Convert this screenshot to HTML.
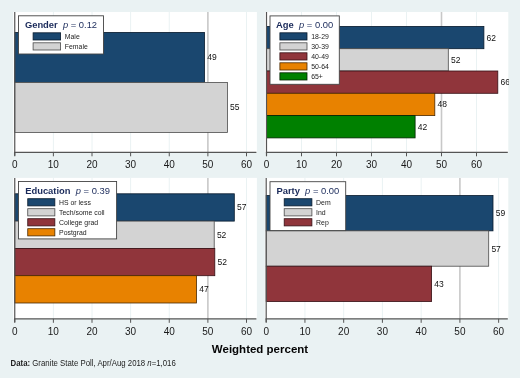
<!DOCTYPE html>
<html><head><meta charset="utf-8"><style>
html,body{margin:0;padding:0;background:#eaf2f3;}
svg{display:block;will-change:transform;}
text{font-family:"Liberation Sans",sans-serif;}
.vl{font-size:8.5px;fill:#111;}
.tl{font-size:10px;fill:#1a1a1a;}
.lt{font-size:9.4px;fill:#1a2a5a;white-space:pre;}
.ll{font-size:6.9px;fill:#222;}
.xt{font-size:11.5px;font-weight:bold;fill:#050505;}
.nt{font-size:8.6px;fill:#222;}
</style></head><body>
<svg width="520" height="378" viewBox="0 0 520 378">
<rect x="0" y="0" width="520" height="378" fill="#eaf2f3"/>
<clipPath id="c0"><rect x="13.2" y="12" width="244.30" height="140.30"/></clipPath>
<rect x="13.2" y="12" width="243.7" height="140.3" fill="#fff"/>
<line x1="53.38" y1="12" x2="53.38" y2="152.3" stroke="#eaf2f3" stroke-width="1"/>
<line x1="92.00" y1="12" x2="92.00" y2="152.3" stroke="#eaf2f3" stroke-width="1"/>
<line x1="130.62" y1="12" x2="130.62" y2="152.3" stroke="#eaf2f3" stroke-width="1"/>
<line x1="169.25" y1="12" x2="169.25" y2="152.3" stroke="#eaf2f3" stroke-width="1"/>
<line x1="246.50" y1="12" x2="246.50" y2="152.3" stroke="#eaf2f3" stroke-width="1"/>
<line x1="207.88" y1="12" x2="207.88" y2="152.3" stroke="#c8c8c8" stroke-width="1.6"/>
<rect x="14.75" y="32.40" width="189.75" height="50.00" fill="#1a476f" stroke="#081a2c" stroke-width="0.8"/>
<text x="207.20" y="60.40" class="vl" clip-path="url(#c0)">49</text>
<rect x="14.75" y="82.40" width="212.65" height="50.00" fill="#d3d3d3" stroke="#4a4a4a" stroke-width="0.8"/>
<text x="230.10" y="110.40" class="vl" clip-path="url(#c0)">55</text>
<line x1="14.75" y1="12" x2="14.75" y2="155.8" stroke="#555" stroke-width="1.2"/>
<line x1="14.15" y1="152.3" x2="256.4" y2="152.3" stroke="#555" stroke-width="1.2"/>
<line x1="14.75" y1="152.3" x2="14.75" y2="156.3" stroke="#555" stroke-width="1"/>
<text x="14.75" y="168.40" class="tl" text-anchor="middle">0</text>
<line x1="53.38" y1="152.3" x2="53.38" y2="156.3" stroke="#555" stroke-width="1"/>
<text x="53.38" y="168.40" class="tl" text-anchor="middle">10</text>
<line x1="92.00" y1="152.3" x2="92.00" y2="156.3" stroke="#555" stroke-width="1"/>
<text x="92.00" y="168.40" class="tl" text-anchor="middle">20</text>
<line x1="130.62" y1="152.3" x2="130.62" y2="156.3" stroke="#555" stroke-width="1"/>
<text x="130.62" y="168.40" class="tl" text-anchor="middle">30</text>
<line x1="169.25" y1="152.3" x2="169.25" y2="156.3" stroke="#555" stroke-width="1"/>
<text x="169.25" y="168.40" class="tl" text-anchor="middle">40</text>
<line x1="207.88" y1="152.3" x2="207.88" y2="156.3" stroke="#555" stroke-width="1"/>
<text x="207.88" y="168.40" class="tl" text-anchor="middle">50</text>
<line x1="246.50" y1="152.3" x2="246.50" y2="156.3" stroke="#555" stroke-width="1"/>
<text x="246.50" y="168.40" class="tl" text-anchor="middle">60</text>
<rect x="18.5" y="15.8" width="85.00" height="38.20" fill="#fff" stroke="#444" stroke-width="0.9"/>
<text x="61.00" y="27.90" class="lt" text-anchor="middle"><tspan font-weight="bold">Gender</tspan>  <tspan font-style="italic">p</tspan> = 0.12</text>
<rect x="33.1" y="32.80" width="27.5" height="7.2" fill="#1a476f" stroke="#081a2c" stroke-width="0.8"/>
<text x="64.80" y="38.90" class="ll">Male</text>
<rect x="33.1" y="42.80" width="27.5" height="7.2" fill="#d3d3d3" stroke="#4a4a4a" stroke-width="0.8"/>
<text x="64.80" y="48.90" class="ll">Female</text>
<clipPath id="c1"><rect x="264.8" y="12" width="244.10" height="140.30"/></clipPath>
<rect x="264.8" y="12" width="243.5" height="140.3" fill="#fff"/>
<line x1="301.50" y1="12" x2="301.50" y2="152.3" stroke="#eaf2f3" stroke-width="1"/>
<line x1="336.50" y1="12" x2="336.50" y2="152.3" stroke="#eaf2f3" stroke-width="1"/>
<line x1="371.50" y1="12" x2="371.50" y2="152.3" stroke="#eaf2f3" stroke-width="1"/>
<line x1="406.50" y1="12" x2="406.50" y2="152.3" stroke="#eaf2f3" stroke-width="1"/>
<line x1="476.50" y1="12" x2="476.50" y2="152.3" stroke="#eaf2f3" stroke-width="1"/>
<line x1="441.50" y1="12" x2="441.50" y2="152.3" stroke="#c8c8c8" stroke-width="1.6"/>
<rect x="266.50" y="26.40" width="217.40" height="22.30" fill="#1a476f" stroke="#081a2c" stroke-width="0.8"/>
<text x="486.60" y="40.55" class="vl" clip-path="url(#c1)">62</text>
<rect x="266.50" y="48.70" width="181.80" height="22.30" fill="#d3d3d3" stroke="#4a4a4a" stroke-width="0.8"/>
<text x="451.00" y="62.85" class="vl" clip-path="url(#c1)">52</text>
<rect x="266.50" y="71.00" width="231.30" height="22.30" fill="#90353b" stroke="#351014" stroke-width="0.8"/>
<text x="500.50" y="85.15" class="vl" clip-path="url(#c1)">66</text>
<rect x="266.50" y="93.30" width="168.30" height="22.30" fill="#e88200" stroke="#4a2800" stroke-width="0.8"/>
<text x="437.50" y="107.45" class="vl" clip-path="url(#c1)">48</text>
<rect x="266.50" y="115.60" width="148.60" height="22.30" fill="#008000" stroke="#002200" stroke-width="0.8"/>
<text x="417.80" y="129.75" class="vl" clip-path="url(#c1)">42</text>
<line x1="266.50" y1="12" x2="266.50" y2="155.8" stroke="#555" stroke-width="1.2"/>
<line x1="265.90" y1="152.3" x2="507.8" y2="152.3" stroke="#555" stroke-width="1.2"/>
<line x1="266.50" y1="152.3" x2="266.50" y2="156.3" stroke="#555" stroke-width="1"/>
<text x="266.50" y="168.40" class="tl" text-anchor="middle">0</text>
<line x1="301.50" y1="152.3" x2="301.50" y2="156.3" stroke="#555" stroke-width="1"/>
<text x="301.50" y="168.40" class="tl" text-anchor="middle">10</text>
<line x1="336.50" y1="152.3" x2="336.50" y2="156.3" stroke="#555" stroke-width="1"/>
<text x="336.50" y="168.40" class="tl" text-anchor="middle">20</text>
<line x1="371.50" y1="152.3" x2="371.50" y2="156.3" stroke="#555" stroke-width="1"/>
<text x="371.50" y="168.40" class="tl" text-anchor="middle">30</text>
<line x1="406.50" y1="152.3" x2="406.50" y2="156.3" stroke="#555" stroke-width="1"/>
<text x="406.50" y="168.40" class="tl" text-anchor="middle">40</text>
<line x1="441.50" y1="152.3" x2="441.50" y2="156.3" stroke="#555" stroke-width="1"/>
<text x="441.50" y="168.40" class="tl" text-anchor="middle">50</text>
<line x1="476.50" y1="152.3" x2="476.50" y2="156.3" stroke="#555" stroke-width="1"/>
<text x="476.50" y="168.40" class="tl" text-anchor="middle">60</text>
<rect x="270" y="15.9" width="69.30" height="68.40" fill="#fff" stroke="#444" stroke-width="0.9"/>
<text x="304.65" y="27.90" class="lt" text-anchor="middle"><tspan font-weight="bold">Age</tspan>  <tspan font-style="italic">p</tspan> = 0.00</text>
<rect x="279.9" y="32.80" width="27.1" height="7.2" fill="#1a476f" stroke="#081a2c" stroke-width="0.8"/>
<text x="311.20" y="38.90" class="ll">18-29</text>
<rect x="279.9" y="42.80" width="27.1" height="7.2" fill="#d3d3d3" stroke="#4a4a4a" stroke-width="0.8"/>
<text x="311.20" y="48.90" class="ll">30-39</text>
<rect x="279.9" y="52.80" width="27.1" height="7.2" fill="#90353b" stroke="#351014" stroke-width="0.8"/>
<text x="311.20" y="58.90" class="ll">40-49</text>
<rect x="279.9" y="62.80" width="27.1" height="7.2" fill="#e88200" stroke="#4a2800" stroke-width="0.8"/>
<text x="311.20" y="68.90" class="ll">50-64</text>
<rect x="279.9" y="72.80" width="27.1" height="7.2" fill="#008000" stroke="#002200" stroke-width="0.8"/>
<text x="311.20" y="78.90" class="ll">65+</text>
<clipPath id="c2"><rect x="13.2" y="177.9" width="244.30" height="140.90"/></clipPath>
<rect x="13.2" y="177.9" width="243.7" height="140.9" fill="#fff"/>
<line x1="53.38" y1="177.9" x2="53.38" y2="318.8" stroke="#eaf2f3" stroke-width="1"/>
<line x1="92.00" y1="177.9" x2="92.00" y2="318.8" stroke="#eaf2f3" stroke-width="1"/>
<line x1="130.62" y1="177.9" x2="130.62" y2="318.8" stroke="#eaf2f3" stroke-width="1"/>
<line x1="169.25" y1="177.9" x2="169.25" y2="318.8" stroke="#eaf2f3" stroke-width="1"/>
<line x1="246.50" y1="177.9" x2="246.50" y2="318.8" stroke="#eaf2f3" stroke-width="1"/>
<line x1="207.88" y1="177.9" x2="207.88" y2="318.8" stroke="#c8c8c8" stroke-width="1.6"/>
<rect x="14.75" y="193.80" width="219.55" height="27.30" fill="#1a476f" stroke="#081a2c" stroke-width="0.8"/>
<text x="237.00" y="210.45" class="vl" clip-path="url(#c2)">57</text>
<rect x="14.75" y="221.10" width="199.45" height="27.30" fill="#d3d3d3" stroke="#4a4a4a" stroke-width="0.8"/>
<text x="216.90" y="237.75" class="vl" clip-path="url(#c2)">52</text>
<rect x="14.75" y="248.40" width="200.05" height="27.30" fill="#90353b" stroke="#351014" stroke-width="0.8"/>
<text x="217.50" y="265.05" class="vl" clip-path="url(#c2)">52</text>
<rect x="14.75" y="275.70" width="181.75" height="27.30" fill="#e88200" stroke="#4a2800" stroke-width="0.8"/>
<text x="199.20" y="292.35" class="vl" clip-path="url(#c2)">47</text>
<line x1="14.75" y1="177.9" x2="14.75" y2="322.3" stroke="#555" stroke-width="1.2"/>
<line x1="14.15" y1="318.8" x2="256.4" y2="318.8" stroke="#555" stroke-width="1.2"/>
<line x1="14.75" y1="318.8" x2="14.75" y2="322.8" stroke="#555" stroke-width="1"/>
<text x="14.75" y="334.90" class="tl" text-anchor="middle">0</text>
<line x1="53.38" y1="318.8" x2="53.38" y2="322.8" stroke="#555" stroke-width="1"/>
<text x="53.38" y="334.90" class="tl" text-anchor="middle">10</text>
<line x1="92.00" y1="318.8" x2="92.00" y2="322.8" stroke="#555" stroke-width="1"/>
<text x="92.00" y="334.90" class="tl" text-anchor="middle">20</text>
<line x1="130.62" y1="318.8" x2="130.62" y2="322.8" stroke="#555" stroke-width="1"/>
<text x="130.62" y="334.90" class="tl" text-anchor="middle">30</text>
<line x1="169.25" y1="318.8" x2="169.25" y2="322.8" stroke="#555" stroke-width="1"/>
<text x="169.25" y="334.90" class="tl" text-anchor="middle">40</text>
<line x1="207.88" y1="318.8" x2="207.88" y2="322.8" stroke="#555" stroke-width="1"/>
<text x="207.88" y="334.90" class="tl" text-anchor="middle">50</text>
<line x1="246.50" y1="318.8" x2="246.50" y2="322.8" stroke="#555" stroke-width="1"/>
<text x="246.50" y="334.90" class="tl" text-anchor="middle">60</text>
<rect x="18.5" y="181.5" width="98.10" height="57.40" fill="#fff" stroke="#444" stroke-width="0.9"/>
<text x="67.55" y="193.80" class="lt" text-anchor="middle"><tspan font-weight="bold">Education</tspan>  <tspan font-style="italic">p</tspan> = 0.39</text>
<rect x="27.75" y="198.70" width="27.1" height="7.2" fill="#1a476f" stroke="#081a2c" stroke-width="0.8"/>
<text x="59.05" y="204.80" class="ll">HS or less</text>
<rect x="27.75" y="208.70" width="27.1" height="7.2" fill="#d3d3d3" stroke="#4a4a4a" stroke-width="0.8"/>
<text x="59.05" y="214.80" class="ll">Tech/some coll</text>
<rect x="27.75" y="218.70" width="27.1" height="7.2" fill="#90353b" stroke="#351014" stroke-width="0.8"/>
<text x="59.05" y="224.80" class="ll">College grad</text>
<rect x="27.75" y="228.70" width="27.1" height="7.2" fill="#e88200" stroke="#4a2800" stroke-width="0.8"/>
<text x="59.05" y="234.80" class="ll">Postgrad</text>
<clipPath id="c3"><rect x="264.8" y="177.9" width="244.10" height="140.90"/></clipPath>
<rect x="264.8" y="177.9" width="243.5" height="140.9" fill="#fff"/>
<line x1="304.94" y1="177.9" x2="304.94" y2="318.8" stroke="#eaf2f3" stroke-width="1"/>
<line x1="343.68" y1="177.9" x2="343.68" y2="318.8" stroke="#eaf2f3" stroke-width="1"/>
<line x1="382.42" y1="177.9" x2="382.42" y2="318.8" stroke="#eaf2f3" stroke-width="1"/>
<line x1="421.16" y1="177.9" x2="421.16" y2="318.8" stroke="#eaf2f3" stroke-width="1"/>
<line x1="498.64" y1="177.9" x2="498.64" y2="318.8" stroke="#eaf2f3" stroke-width="1"/>
<line x1="459.90" y1="177.9" x2="459.90" y2="318.8" stroke="#c8c8c8" stroke-width="1.6"/>
<rect x="266.20" y="195.50" width="226.80" height="35.35" fill="#1a476f" stroke="#081a2c" stroke-width="0.8"/>
<text x="495.70" y="216.18" class="vl" clip-path="url(#c3)">59</text>
<rect x="266.20" y="230.85" width="222.50" height="35.35" fill="#d3d3d3" stroke="#4a4a4a" stroke-width="0.8"/>
<text x="491.40" y="251.53" class="vl" clip-path="url(#c3)">57</text>
<rect x="266.20" y="266.20" width="165.40" height="35.35" fill="#90353b" stroke="#351014" stroke-width="0.8"/>
<text x="434.30" y="286.88" class="vl" clip-path="url(#c3)">43</text>
<line x1="266.20" y1="177.9" x2="266.20" y2="322.3" stroke="#555" stroke-width="1.2"/>
<line x1="265.60" y1="318.8" x2="507.8" y2="318.8" stroke="#555" stroke-width="1.2"/>
<line x1="266.20" y1="318.8" x2="266.20" y2="322.8" stroke="#555" stroke-width="1"/>
<text x="266.20" y="334.90" class="tl" text-anchor="middle">0</text>
<line x1="304.94" y1="318.8" x2="304.94" y2="322.8" stroke="#555" stroke-width="1"/>
<text x="304.94" y="334.90" class="tl" text-anchor="middle">10</text>
<line x1="343.68" y1="318.8" x2="343.68" y2="322.8" stroke="#555" stroke-width="1"/>
<text x="343.68" y="334.90" class="tl" text-anchor="middle">20</text>
<line x1="382.42" y1="318.8" x2="382.42" y2="322.8" stroke="#555" stroke-width="1"/>
<text x="382.42" y="334.90" class="tl" text-anchor="middle">30</text>
<line x1="421.16" y1="318.8" x2="421.16" y2="322.8" stroke="#555" stroke-width="1"/>
<text x="421.16" y="334.90" class="tl" text-anchor="middle">40</text>
<line x1="459.90" y1="318.8" x2="459.90" y2="322.8" stroke="#555" stroke-width="1"/>
<text x="459.90" y="334.90" class="tl" text-anchor="middle">50</text>
<line x1="498.64" y1="318.8" x2="498.64" y2="322.8" stroke="#555" stroke-width="1"/>
<text x="498.64" y="334.90" class="tl" text-anchor="middle">60</text>
<rect x="270" y="181.7" width="75.70" height="48.90" fill="#fff" stroke="#444" stroke-width="0.9"/>
<text x="307.85" y="193.80" class="lt" text-anchor="middle"><tspan font-weight="bold">Party</tspan>  <tspan font-style="italic">p</tspan> = 0.00</text>
<rect x="284.2" y="198.70" width="27.7" height="7.2" fill="#1a476f" stroke="#081a2c" stroke-width="0.8"/>
<text x="316.10" y="204.80" class="ll">Dem</text>
<rect x="284.2" y="208.70" width="27.7" height="7.2" fill="#d3d3d3" stroke="#4a4a4a" stroke-width="0.8"/>
<text x="316.10" y="214.80" class="ll">Ind</text>
<rect x="284.2" y="218.70" width="27.7" height="7.2" fill="#90353b" stroke="#351014" stroke-width="0.8"/>
<text x="316.10" y="224.80" class="ll">Rep</text>
<text x="260" y="353" class="xt" text-anchor="middle">Weighted percent</text>
<text x="10.6" y="365.8" class="nt" textLength="165.2" lengthAdjust="spacingAndGlyphs"><tspan font-weight="bold">Data:</tspan> Granite State Poll, Apr/Aug 2018 <tspan font-style="italic">n</tspan>=1,016</text>
</svg>
</body></html>
